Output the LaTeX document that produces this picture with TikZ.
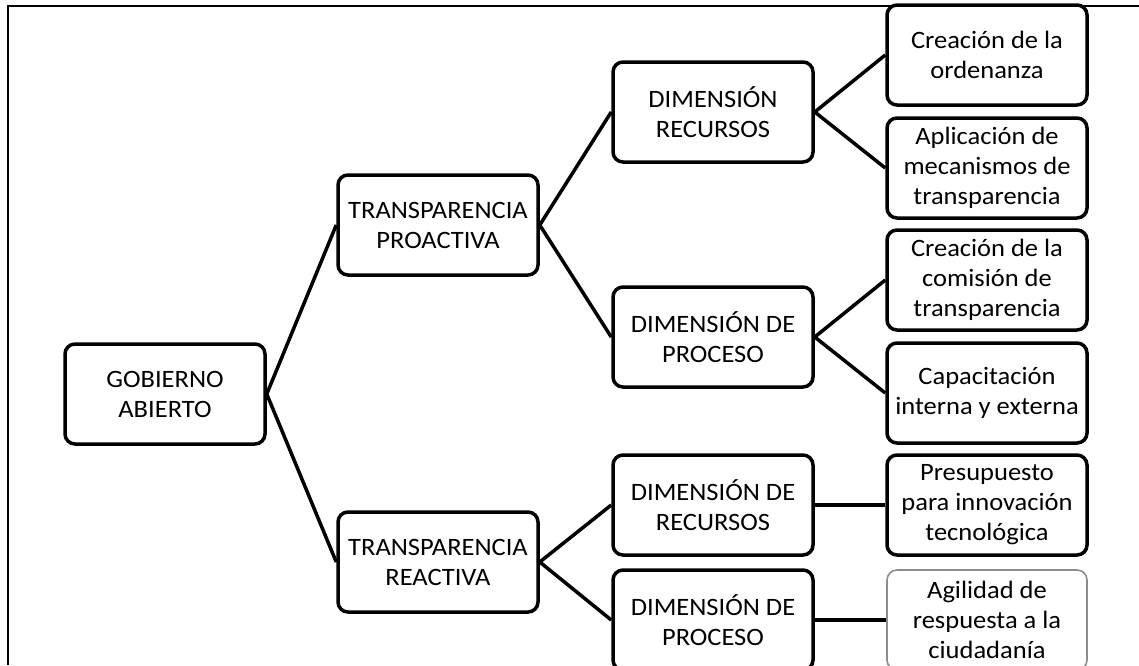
\documentclass[tikz,border=0pt]{standalone}
\usepackage{fontspec}
\setmainfont{Carlito}[FakeStretch=1.06]
\tikzset{
	box/.style   = {rectangle,draw,rounded corners=10pt,line width=3.5pt,minimum width=200pt,minimum height=100pt,inner sep=2pt,align=center,font=\fontsize{25}{30}\selectfont},
	light/.style = {draw=black!45,line width=1.6pt},
	link/.style  = {line width=3.5pt},
	frame/.style = {line width=1.6pt}
}
\begin{document}
\begin{tikzpicture}[x=1pt,y=-1pt]
			\useasboundingbox (0,0) rectangle (1139,665);
			\draw[frame] (8,665) |- (1139,6);

			\node at ( 165, 394) [box] (gobierno)   {GOBIERNO\\ABIERTO};
			\node at ( 438, 225) [box] (proactiva)  {TRANSPARENCIA\\PROACTIVA};
			\node at ( 438, 562) [box] (reactiva)   {TRANSPARENCIA\\REACTIVA};

			\node at ( 713, 112) [box] (pro_recursos) {DIMENSIÓN\\RECURSOS};
			\node at ( 713, 337) [box] (pro_proceso)  {DIMENSIÓN DE\\PROCESO};
			\node at ( 713, 505) [box] (re_recursos)  {DIMENSIÓN DE\\RECURSOS};
			\node at ( 713, 620) [box] (re_proceso)   {DIMENSIÓN DE\\PROCESO};

			\node at ( 987,  55) [box] (ordenanza)    {Creación de la\\ordenanza};
			\node at ( 987, 168) [box] (mecanismos)   {Aplicación de\\mecanismos de\\transparencia};
			\node at ( 987, 280) [box] (comision)     {Creación de la\\comisión de\\transparencia};
			\node at ( 987, 393) [box] (capacitacion) {Capacitación\\interna y externa};
			\node at ( 987, 505) [box] (presupuesto)  {Presupuesto\\para innovación\\tecnológica};
			\node at ( 987, 620) [box,light] (agilidad) {Agilidad de\\respuesta a la\\ciudadanía};

			\draw[link] (gobierno.east)     edge (proactiva.west);
			\draw[link] (gobierno.east)     edge (reactiva.west);
			\draw[link] (proactiva.east)    edge (pro_recursos.west);
			\draw[link] (proactiva.east)    edge (pro_proceso.west);
			\draw[link] (reactiva.east)     edge (re_recursos.west);
			\draw[link] (reactiva.east)     edge (re_proceso.west);
			\draw[link] (pro_recursos.east) edge (ordenanza.west);
			\draw[link] (pro_recursos.east) edge (mecanismos.west);
			\draw[link] (pro_proceso.east)  edge (comision.west);
			\draw[link] (pro_proceso.east)  edge (capacitacion.west);
			\draw[link,line width=4.5pt] (re_recursos.east) edge (presupuesto.west);
			\draw[link,line width=4.5pt] (re_proceso.east)  edge (agilidad.west);
\end{tikzpicture}
\end{document}
